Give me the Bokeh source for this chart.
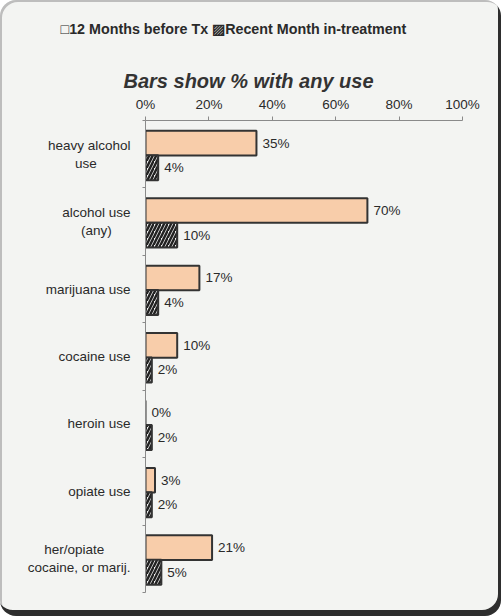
from bokeh.plotting import figure
from bokeh.models import (Range1d, FixedTicker, ColumnDataSource, LabelSet, Title)
from bokeh.core.properties import value
from bokeh.embed import file_html
from bokeh.resources import INLINE

# ---------------- data ----------------
categories = ["heavy alcohol\nuse", "alcohol use\n(any)", "marijuana use", "cocaine use",
              "heroin use", "opiate use", "her/opiate\ncocaine, or marij."]
before_tx = [35, 70, 17, 10, 0, 3, 21]
recent_month = [4, 10, 4, 2, 2, 2, 5]
x_ticks = [0, 20, 40, 60, 80, 100]
series_names = ["12 Months before Tx", "Recent Month in-treatment"]
series_marks = ["\u25a1", "\u25a8"]   # open square / hatched square, as in the original key
chart_title = "Bars show % with any use"

FONT = "Liberation Sans"
TXT = "#2a2a2a"
PANEL = "#f3f4f2"

n = len(categories)
idx = list(range(n))


def centre_lines(label, px_per_char=6.4, nbsp_px=3.75):
    """Pad shorter lines of a multi-line, right-aligned tick label so they look centred."""
    lines = label.split("\n")
    if len(lines) == 1:
        return label
    widest = max(len(s) for s in lines) * px_per_char
    out = []
    for s in lines:
        pad = int(round((widest - len(s) * px_per_char) / 2 / nbsp_px))
        out.append(s + "\u00a0" * pad)
    return "\n".join(out)


p = figure(width=501, height=616, output_backend="svg", toolbar_location=None,
           x_range=Range1d(0, 100), y_range=Range1d(n - 0.5, -0.5),
           x_axis_location="above",
           min_border_left=145, min_border_right=39, min_border_top=120, min_border_bottom=24)
p.background_fill_color = None
p.border_fill_color = None
p.outline_line_color = None
p.grid.visible = False
p.styles = {"background-color": PANEL, "border-radius": "16px",
            "box-shadow": "inset -3px -6px 0 0 #2e2e2e, inset 2px 2px 0 0 #bdbdbd"}

src = ColumnDataSource(dict(
    y1=[i - 0.165 for i in idx], y2=[i + 0.20 for i in idx],
    before=before_tx, recent=recent_month,
    before_lbl=[f"{v}%" for v in before_tx],
    recent_lbl=[f"{v}%" for v in recent_month],
))

p.hbar(y="y1", left=0, right="before", height=0.365, source=src,
       fill_color="#f8cdaa", line_color="#333333", line_width=2)
p.hbar(y="y2", left=0, right="recent", height=0.37, source=src,
       fill_color="#f4f4f4", line_color="#333333", line_width=2,
       hatch_pattern="/", hatch_color="#222222", hatch_scale=7, hatch_weight=2.5)

for col, ycol in (("before", "y1"), ("recent", "y2")):
    p.add_layout(LabelSet(x=col, y=ycol, text=col + "_lbl", source=src,
                          x_offset=6, text_align="left", text_baseline="middle",
                          text_font=value(FONT), text_font_size="13.5px", text_color=TXT))

# top value axis
xa = p.xaxis[0]
xa.ticker = FixedTicker(ticks=x_ticks)
xa.major_label_overrides = {t: f"{t}%" for t in x_ticks}
xa.major_label_text_font = FONT
xa.major_label_text_font_size = "13.5px"
xa.major_label_text_color = TXT
xa.major_tick_out = 4
xa.major_tick_in = 0
xa.minor_tick_line_color = None
xa.axis_line_color = "#8a8a8a"
xa.major_tick_line_color = "#8a8a8a"
xa.major_label_standoff = 5

# category axis: labels at centres, tick marks at boundaries
ya = p.yaxis[0]
ya.ticker = FixedTicker(ticks=idx, minor_ticks=[i - 0.5 for i in range(n + 1)])
ya.major_label_overrides = {i: centre_lines(categories[i]) for i in idx}
ya.major_label_text_font = FONT
ya.major_label_text_font_size = "13.5px"
ya.major_label_text_color = TXT
ya.major_label_standoff = 12
ya.major_tick_line_color = None
ya.major_tick_out = 0
ya.major_tick_in = 0
ya.minor_tick_out = 3
ya.minor_tick_in = 0
ya.minor_tick_line_color = "#8a8a8a"
ya.axis_line_color = "#8a8a8a"

# chart title
p.add_layout(Title(text=chart_title, align="left", offset=-22, text_font=FONT,
                   text_font_size="20px", text_font_style="bold italic",
                   text_color="#333333", standoff=4), "above")

# series key, written the way the original shows it (an empty second line
# reserves space below it so the key sits near the top edge)
key_text = " ".join(m + s for m, s in zip(series_marks, series_names))
p.add_layout(Title(text=key_text + "\n", align="left", offset=-85, text_font=FONT,
                   text_font_size="14.3px", text_font_style="bold",
                   text_color=TXT, standoff=26), "above")

open("out.html", "w").write(file_html(p, INLINE))
